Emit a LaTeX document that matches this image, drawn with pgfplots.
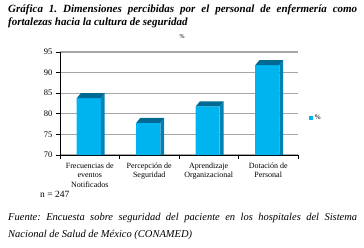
\documentclass[border=0pt]{standalone}
\usepackage{fontspec}
\setmainfont{Liberation Serif}
\usepackage{pgfplots}
\pgfplotsset{compat=1.18}
\definecolor{frontc}{HTML}{00B4F0}
\definecolor{sidec}{HTML}{0082B4}
\definecolor{topc}{HTML}{006A94}
\definecolor{gridc}{HTML}{A6A6A6}
\frenchspacing
\begin{document}
\begin{tikzpicture}
\useasboundingbox (0,0) rectangle (364pt,-247pt);
\node[anchor=base west, inner sep=0, font=\fontsize{11}{12}\selectfont\bfseries\itshape] at (8pt,-12.5pt) {\makebox[349pt][s]{Gráfica 1. Dimensiones percibidas por el personal de enfermería como}};
\node[anchor=base west, inner sep=0, font=\fontsize{11}{12}\selectfont\bfseries\itshape] at (8pt,-25pt) {fortalezas hacia la cultura de seguridad};
\node[font=\fontsize{6}{7}\selectfont] at (182pt,-37pt) {\%};
\begin{axis}[
  at={(60pt,-155pt)}, anchor=south west,
  scale only axis, width=238pt, height=103pt,
  xmin=-0.5, xmax=3.5, ymin=70, ymax=95,
  ytick={70,75,...,95},
  ymajorgrids, grid style={gridc, line width=1.2pt},
  axis x line*=bottom, axis y line*=left,
  axis line style={black, line width=0.9pt},
  tick align=outside, major tick length=4pt,
  ytick style={draw=black, line width=0.8pt},
  xtick={0,1,2,3},
  xticklabels={{Frecuencias de\\eventos\\Notificados},{Percepción de\\Seguridad},{Aprendizaje\\Organizacional},{Dotación de\\Personal}},
  xtick style={draw=none},
  extra x ticks={-0.5,0.5,1.5,2.5,3.5},
  extra x tick labels={},
  extra x tick style={xtick style={draw=black, line width=0.8pt}},
  xticklabel style={align=center, font=\fontsize{8}{9.5}\selectfont},
  yticklabel style={font=\fontsize{8.5}{9.5}\selectfont},
  /pgf/number format/assume math mode=true,
  legend style={at={(1,0.36)}, anchor=west, xshift=8pt, draw=none, fill=none, font=\fontsize{7}{8}\selectfont},
  legend image code/.code={\fill[frontc] (0pt,-1.8pt) rectangle (3.6pt,1.8pt);},
]
\addplot[ybar, bar width=24pt, bar shift=-1pt, fill=frontc, draw=none] coordinates {(0,83.8) (1,77.8) (2,81.8) (3,91.8)};
\addlegendentry{\%}
% side faces
\addplot[fill=sidec, draw=none, forget plot] coordinates {(0.185,70) (0.185,83.8) (0.252,85.0) (0.252,70)};
\addplot[fill=sidec, draw=none, forget plot] coordinates {(1.185,70) (1.185,77.8) (1.252,79.0) (1.252,70)};
\addplot[fill=sidec, draw=none, forget plot] coordinates {(2.185,70) (2.185,81.8) (2.252,83.0) (2.252,70)};
\addplot[fill=sidec, draw=none, forget plot] coordinates {(3.185,70) (3.185,91.8) (3.252,93.0) (3.252,70)};
% top faces
\addplot[fill=topc, draw=none, forget plot] coordinates {(-0.218,83.8) (0.185,83.8) (0.252,85.0) (-0.151,85.0)};
\addplot[fill=topc, draw=none, forget plot] coordinates {(0.782,77.8) (1.185,77.8) (1.252,79.0) (0.849,79.0)};
\addplot[fill=topc, draw=none, forget plot] coordinates {(1.782,81.8) (2.185,81.8) (2.252,83.0) (1.849,83.0)};
\addplot[fill=topc, draw=none, forget plot] coordinates {(2.782,91.8) (3.185,91.8) (3.252,93.0) (2.849,93.0)};
\end{axis}
\node[anchor=base west, inner sep=0, font=\fontsize{9.5}{11}\selectfont] at (40pt,-197.5pt) {n = 247};
\node[anchor=base west, inner sep=0, font=\fontsize{10.5}{12}\selectfont\itshape] at (8pt,-220pt) {\makebox[349pt][s]{Fuente: Encuesta sobre seguridad del paciente en los hospitales del Sistema}};
\node[anchor=base west, inner sep=0, font=\fontsize{10.5}{12}\selectfont\itshape] at (8pt,-237.5pt) {Nacional de Salud de México (CONAMED)};
\end{tikzpicture}
\end{document}
